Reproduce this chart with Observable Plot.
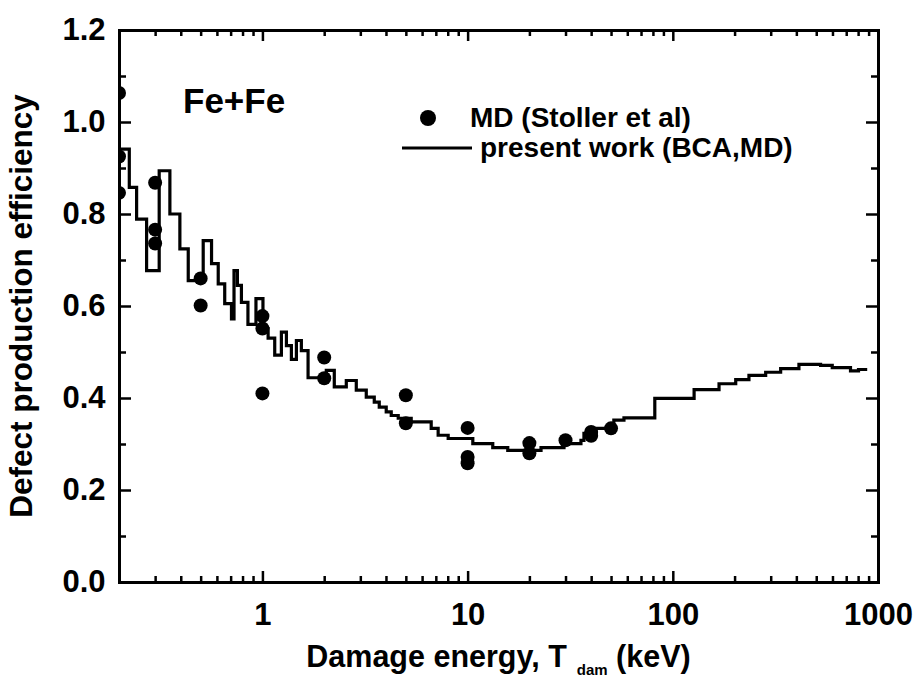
<!DOCTYPE html>
<html><head><meta charset="utf-8">
<script src="https://cdn.jsdelivr.net/npm/d3@7"></script>
<script src="https://cdn.jsdelivr.net/npm/@observablehq/plot@0.6"></script>
<style>
html,body{margin:0;padding:0;background:#fff;overflow:hidden;}
</style>
</head><body><div id="chart"></div>
<script>
// MD (Stoller et al) points
const mdX = [0.2, 0.2, 0.2, 0.3, 0.3, 0.3, 0.5, 0.5, 1, 1, 1, 2, 2, 5, 5, 10, 10, 10, 20, 20, 30, 40, 40, 50];
const mdY = [1.063, 0.925, 0.846, 0.868, 0.766, 0.736, 0.660, 0.601, 0.578, 0.551, 0.410, 0.488, 0.443, 0.406, 0.345, 0.335, 0.272, 0.258, 0.302, 0.280, 0.308, 0.326, 0.318, 0.334];

// present work (BCA,MD) staircase
const lineX = [0.2, 0.2245, 0.2437, 0.2726, 0.314, 0.354, 0.396, 0.435, 0.5145, 0.565, 0.609, 0.655, 0.7066, 0.727, 0.7553, 0.790, 0.850, 0.930, 1.006, 1.066, 1.148, 1.237, 1.309, 1.384, 1.464, 1.548, 1.669, 2.048, 2.240, 2.563, 2.867, 3.207, 3.508, 3.710, 4.012, 4.244, 4.590, 5.31, 6.645, 7.185, 8.04, 10.6, 13.26, 15.69, 22.79, 29.49, 35.67, 36.89, 42.2, 51.6, 57.8, 81.7, 127, 168, 202.6, 235, 283.5, 335.4, 411.8, 525, 598.4, 734.5, 803.5, 886];
const lineY = [0.941, 0.858, 0.789, 0.677, 0.894, 0.800, 0.724, 0.655, 0.742, 0.692, 0.648, 0.605, 0.572, 0.677, 0.645, 0.608, 0.560, 0.616, 0.551, 0.530, 0.493, 0.543, 0.514, 0.484, 0.525, 0.503, 0.444, 0.460, 0.424, 0.438, 0.417, 0.402, 0.391, 0.380, 0.370, 0.362, 0.356, 0.348, 0.334, 0.319, 0.312, 0.301, 0.292, 0.286, 0.292, 0.301, 0.308, 0.323, 0.334, 0.352, 0.357, 0.399, 0.418, 0.431, 0.440, 0.449, 0.456, 0.464, 0.473, 0.471, 0.466, 0.459, 0.462, 0.462];

// ticks
const xMajor = [1, 10, 100, 1000];
const xMinor = [0.3, 0.4, 0.5, 0.6, 0.7, 0.8, 0.9, 2, 3, 4, 5, 6, 7, 8, 9, 20, 30, 40, 50, 60, 70, 80, 90, 200, 300, 400, 500, 600, 700, 800, 900];
const yMajor = [0, 0.2, 0.4, 0.6, 0.8, 1.0, 1.2];
const yMinor = [0.1, 0.3, 0.5, 0.7, 0.9, 1.1];

// text
const yTitle = "Defect production efficiency";
const xTitleMain = "Damage energy, T";
const xTitleSub = "dam";
const xTitleEnd = " (keV)";
const annot = "Fe+Fe";
const legendMD = "MD (Stoller et al)";
const legendLine = "present work (BCA,MD)";

const md = mdX.map((x, i) => ({x, y: mdY[i]}));
const line = lineX.map((x, i) => ({x, y: lineY[i]}));

const W = 915, H = 678;
const mL = 119, mR = 37, mT = 30, mB = 96;
const plotH = H - mT - mB;
const plotW = W - mL - mR;
const font = "'Liberation Sans', Arial, Helvetica, sans-serif";
const tk = {stroke: "black", strokeWidth: 2.5};

const chart = Plot.plot({
  width: W, height: H,
  marginLeft: mL, marginRight: mR, marginTop: mT, marginBottom: mB,
  style: {fontFamily: font, fontWeight: "bold", background: "white", color: "black"},
  x: {type: "log", domain: [0.2, 1000]},
  y: {domain: [0, 1.2]},
  marks: [
    Plot.axisX(xMajor, {anchor: "bottom", tickSize: 0, tickPadding: 20, fontSize: 31, fill: "black", tickFormat: d => String(d), label: null}),
    Plot.axisY(yMajor, {anchor: "left", tickSize: 0, tickPadding: 14, fontSize: 31, fill: "black", tickFormat: d => d.toFixed(1), label: null}),
    Plot.line(line, {x: "x", y: "y", curve: "step-after", stroke: "black", strokeWidth: 3.2}),
    Plot.dot(md, {x: "x", y: "y", r: 7, fill: "black", stroke: "none"}),
    Plot.frame({stroke: "black", strokeWidth: 3}),
    // inward ticks, bottom & top
    Plot.tickX(xMajor, {x: d => d, insetTop: plotH - 11, ...tk}),
    Plot.tickX(xMinor, {x: d => d, insetTop: plotH - 6, ...tk}),
    Plot.tickX(xMajor, {x: d => d, insetBottom: plotH - 11, ...tk}),
    Plot.tickX(xMinor, {x: d => d, insetBottom: plotH - 6, ...tk}),
    // inward ticks, left & right
    Plot.tickY(yMajor, {y: d => d, insetRight: plotW - 12, ...tk}),
    Plot.tickY(yMinor, {y: d => d, insetRight: plotW - 7, ...tk}),
    Plot.tickY(yMajor, {y: d => d, insetLeft: plotW - 12, ...tk}),
    Plot.tickY(yMinor, {y: d => d, insetLeft: plotW - 7, ...tk})
  ]
});

const svg = d3.select(chart);
// clip the data marks to the frame
svg.insert("defs", ":first-child").append("clipPath").attr("id", "frameclip")
  .attr("clipPathUnits", "userSpaceOnUse")
  .append("rect").attr("x", mL + 1).attr("y", mT).attr("width", plotW - 1).attr("height", plotH);
const frameEl = chart.querySelector('[aria-label="frame"]');
// wrapper for the staircase line keeps its stroke styling
const lineWrap = document.createElementNS("http://www.w3.org/2000/svg", "g");
lineWrap.setAttribute("clip-path", "url(#frameclip)");
lineWrap.setAttribute("fill", "none");
lineWrap.setAttribute("stroke", "black");
lineWrap.setAttribute("stroke-width", "3.2");
lineWrap.setAttribute("stroke-linejoin", "miter");
lineWrap.setAttribute("stroke-linecap", "butt");
// wrapper for the dots keeps their fill
const dotWrap = document.createElementNS("http://www.w3.org/2000/svg", "g");
dotWrap.setAttribute("clip-path", "url(#frameclip)");
dotWrap.setAttribute("fill", "black");
dotWrap.setAttribute("stroke", "none");
chart.querySelectorAll('g[aria-label="line"] path').forEach(p => {
  p.setAttribute("fill", "none");
  p.setAttribute("stroke", "black");
  p.setAttribute("stroke-width", "3.2");
  lineWrap.appendChild(p);
});
chart.querySelectorAll('g[aria-label="dot"] circle').forEach(c => {
  c.setAttribute("fill", "black");
  dotWrap.appendChild(c);
});
if (frameEl) {
  chart.insertBefore(lineWrap, frameEl);
  chart.insertBefore(dotWrap, frameEl);
} else {
  chart.appendChild(lineWrap);
  chart.appendChild(dotWrap);
}

function txt(x, y, size, s) {
  return svg.append("text").attr("x", x).attr("y", y)
    .attr("text-anchor", "start")
    .attr("font-family", font).attr("font-weight", "bold").attr("font-size", size)
    .attr("fill", "black").text(s);
}
// y title
svg.append("text")
  .attr("transform", `translate(32,${mT + plotH / 2}) rotate(-90)`)
  .attr("text-anchor", "middle")
  .attr("font-family", font).attr("font-weight", "bold").attr("font-size", 31.5)
  .attr("fill", "black")
  .text(yTitle);
// x title with subscript
const xt = svg.append("text")
  .attr("x", mL + plotW / 2).attr("y", 667)
  .attr("text-anchor", "middle")
  .attr("font-family", font).attr("font-weight", "bold").attr("font-size", 30.5)
  .attr("fill", "black");
xt.append("tspan").text(xTitleMain);
xt.append("tspan").attr("font-size", 15).attr("dx", 10).attr("dy", 8).text(xTitleSub);
xt.append("tspan").attr("dy", -8).text(xTitleEnd);
// annotation
txt(183, 113, 35, annot);
// legend
svg.append("circle").attr("cx", 428).attr("cy", 118).attr("r", 8).attr("fill", "black");
txt(470, 127, 28, legendMD);
svg.append("line").attr("x1", 402).attr("x2", 472).attr("y1", 148).attr("y2", 148)
  .attr("stroke", "black").attr("stroke-width", 3);
txt(480, 157, 28, legendLine);

document.getElementById("chart").appendChild(chart);
</script>
</body></html>
